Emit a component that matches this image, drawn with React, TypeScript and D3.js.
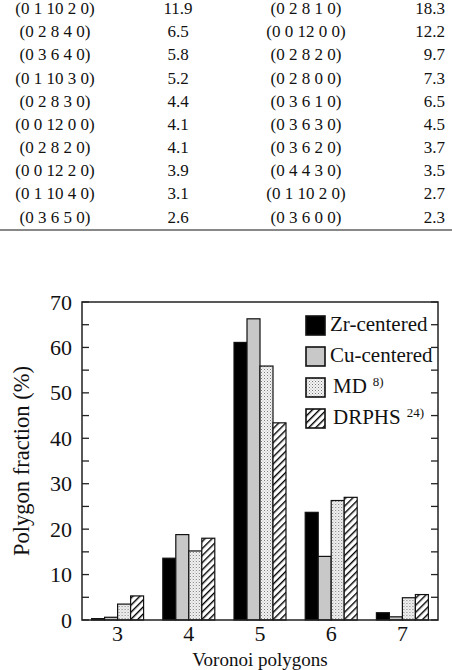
import React from "react";
import * as d3 from "d3";

// table rows (left pair of columns, right pair of columns)
const leftIndex = ["(0 1 10 2 0)", "(0 2 8 4 0)", "(0 3 6 4 0)", "(0 1 10 3 0)", "(0 2 8 3 0)", "(0 0 12 0 0)", "(0 2 8 2 0)", "(0 0 12 2 0)", "(0 1 10 4 0)", "(0 3 6 5 0)"];
const leftValue = ["11.9", "6.5", "5.8", "5.2", "4.4", "4.1", "4.1", "3.9", "3.1", "2.6"];
const rightIndex = ["(0 2 8 1 0)", "(0 0 12 0 0)", "(0 2 8 2 0)", "(0 2 8 0 0)", "(0 3 6 1 0)", "(0 3 6 3 0)", "(0 3 6 2 0)", "(0 4 4 3 0)", "(0 1 10 2 0)", "(0 3 6 0 0)"];
const rightValue = ["18.3", "12.2", "9.7", "7.3", "6.5", "4.5", "3.7", "3.5", "2.7", "2.3"];

// bar chart
const polygons = ["3", "4", "5", "6", "7"];
const seriesNames = ["Zr-centered", "Cu-centered", "MD", "DRPHS"];
const seriesRefs = ["", "", "8)", "24)"];
const zrCentered = [0.3, 13.6, 61.1, 23.7, 1.6];
const cuCentered = [0.6, 18.8, 66.3, 14.0, 0.7];
const md = [3.5, 15.2, 55.9, 26.3, 4.9];
const drphs = [5.3, 18.0, 43.4, 27.0, 5.6];
const yTicks = [0, 10, 20, 30, 40, 50, 60, 70];

const series = [zrCentered, cuCentered, md, drphs];
const fills = ["#000", "#c8c8c8", "url(#stipple)", "url(#hatch)"];
const font = "'Liberation Serif', 'Times New Roman', serif";

export default function App() {
  const W = 452, H = 670;
  const left = 82, right = 438, top = 302, bottom = 620;

  const x = d3.scaleBand().domain(polygons).range([left, right]).paddingInner(0.27).paddingOuter(0.135);
  const xs = d3.scaleBand().domain(seriesNames).range([0, x.bandwidth()]);
  const y = d3.scaleLinear().domain([0, 70]).range([bottom, top]);
  const minor = d3.range(0, 71, 5);

  // first row pushed down just enough to stay inside the picture
  const rowY = d3.scaleLinear().domain([0, leftIndex.length - 1]).range([14, 222.5]);

  return (
    <svg width={W} height={H} style={{ position: "absolute", left: 0, top: 0, background: "#fff" }} fontFamily={font}>
      <defs>
        <pattern id="stipple" width="3" height="3" patternUnits="userSpaceOnUse">
          <rect width="3" height="3" fill="#f4f4f4" />
          <rect x="0" y="0" width="1" height="1" fill="#777" />
          <rect x="1.5" y="1.5" width="1" height="1" fill="#aaa" />
        </pattern>
        <pattern id="hatch" width="5" height="5" patternUnits="userSpaceOnUse" patternTransform="rotate(45)">
          <rect width="5" height="5" fill="#fff" />
          <line x1="0" y1="0" x2="0" y2="5" stroke="#000" strokeWidth="2.8" />
        </pattern>
      </defs>

      {/* table */}
      <g fontSize={17} fill="#111">
        {leftIndex.map((d, i) => (
          <g key={i}>
            <text x={55} y={rowY(i)} textAnchor="middle">{d}</text>
            <text x={178} y={rowY(i)} textAnchor="middle">{leftValue[i]}</text>
            <text x={306} y={rowY(i)} textAnchor="middle">{rightIndex[i]}</text>
            <text x={445} y={rowY(i)} textAnchor="end">{rightValue[i]}</text>
          </g>
        ))}
      </g>
      <line x1={0} x2={W} y1={230} y2={230} stroke="#888" strokeWidth={2} />

      {/* bars */}
      {polygons.map((p, i) => (
        <g key={p} transform={`translate(${x(p)},0)`}>
          {series.map((s, j) => (
            <rect key={j} x={xs(seriesNames[j])} y={y(s[i])} width={xs.bandwidth()} height={y(0) - y(s[i])}
              fill={fills[j]} stroke="#111" strokeWidth={1.2} />
          ))}
        </g>
      ))}

      {/* frame and ticks */}
      <rect x={left} y={top} width={right - left} height={bottom - top} fill="none" stroke="#222" strokeWidth={1.5} />
      {minor.map((t) => (
        <g key={t} stroke="#222" strokeWidth={1.3}>
          <line x1={left} x2={left + 7} y1={y(t)} y2={y(t)} />
          <line x1={right - 7} x2={right} y1={y(t)} y2={y(t)} />
        </g>
      ))}
      <g fontSize={22} fill="#111">
        {yTicks.map((t) => (
          <text key={t} x={72} y={y(t) + 7.5} textAnchor="end">{t}</text>
        ))}
        {polygons.map((p) => (
          <text key={p} x={(x(p) as number) + x.bandwidth() / 2} y={641} textAnchor="middle">{p}</text>
        ))}
      </g>
      <text transform={`translate(29,${(top + bottom) / 2}) rotate(-90)`} textAnchor="middle" fontSize={22.5} fill="#111">
        Polygon fraction (%)
      </text>
      <text x={(left + right) / 2} y={665.5} textAnchor="middle" fontSize={19} fill="#111">Voronoi polygons</text>

      {/* legend */}
      {seriesNames.map((n, i) => {
        const cy = 325 + i * 31;
        return (
          <g key={n}>
            <rect x={306} y={cy - 9} width={19} height={19} fill={fills[i]} stroke="#111" strokeWidth={1.6} />
            <text x={i < 2 ? 330 : 333} y={cy + 6} fontSize={21} fill="#111">
              {n}
              {seriesRefs[i] && <tspan dx={6} dy={-7} fontSize={13}>{seriesRefs[i]}</tspan>}
            </text>
          </g>
        );
      })}
    </svg>
  );
}
